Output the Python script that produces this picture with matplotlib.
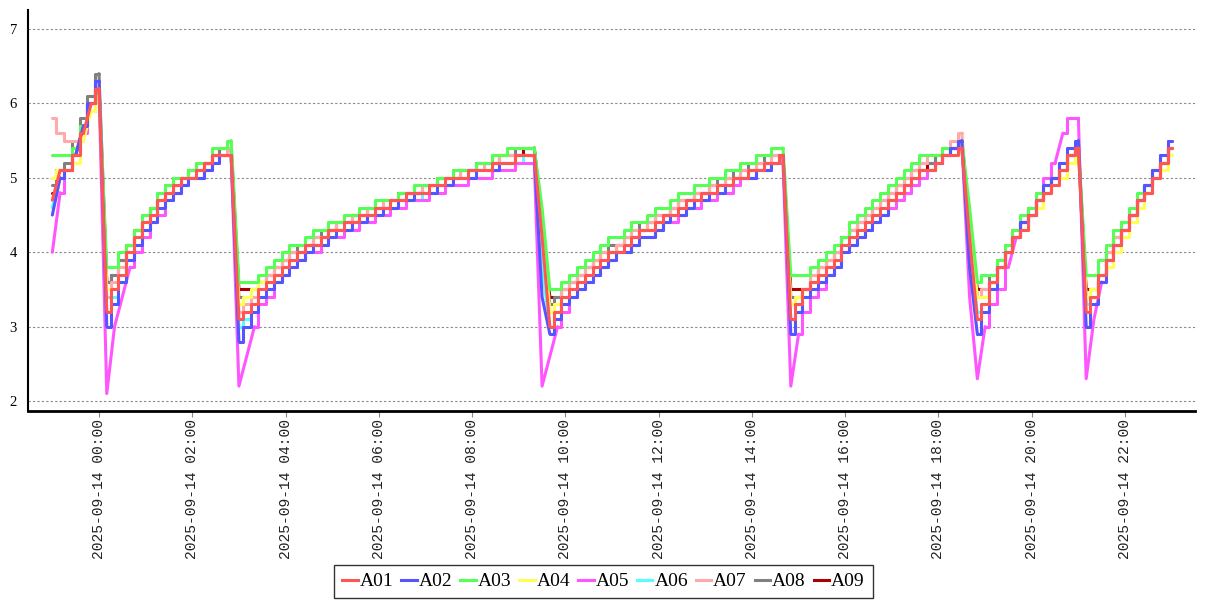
import numpy as np
import pandas as pd
import matplotlib
matplotlib.use("Agg")
import matplotlib.pyplot as plt

# 10-minute samples from 2025-09-13 23:00 to 2025-09-14 23:00 (one row per hour)
times = pd.date_range("2025-09-13 23:00", "2025-09-14 23:00", freq="10min")

a01 = [4.7, 5.1, 5.1, 5.3, 5.6, 6.0,
       6.2, 3.2, 3.5, 3.7, 4.0, 4.2,
       4.4, 4.5, 4.7, 4.8, 4.9, 5.0,
       5.0, 5.1, 5.2, 5.3, 5.3, 5.3,
       3.1, 3.2, 3.3, 3.5, 3.6, 3.7,
       3.8, 3.9, 4.0, 4.1, 4.1, 4.2,
       4.3, 4.3, 4.4, 4.4, 4.5, 4.5,
       4.6, 4.6, 4.7, 4.7, 4.8, 4.8,
       4.8, 4.9, 4.9, 5.0, 5.0, 5.0,
       5.1, 5.1, 5.1, 5.2, 5.2, 5.2,
       5.3, 5.3, 5.3, 4.2, 3.0, 3.2,
       3.4, 3.5, 3.6, 3.7, 3.8, 3.9,
       4.0, 4.0, 4.1, 4.2, 4.3, 4.3,
       4.4, 4.5, 4.5, 4.6, 4.7, 4.7,
       4.8, 4.8, 4.9, 4.9, 5.0, 5.0,
       5.1, 5.1, 5.2, 5.2, 5.3, 3.1,
       3.3, 3.5, 3.6, 3.7, 3.8, 3.9,
       4.1, 4.2, 4.3, 4.4, 4.5, 4.6,
       4.7, 4.8, 4.9, 5.0, 5.1, 5.1,
       5.2, 5.3, 5.3, 5.4, 4.2, 3.1,
       3.3, 3.6, 3.8, 4.0, 4.2, 4.3,
       4.5, 4.7, 4.8, 4.9, 5.1, 5.3,
       5.4, 3.2, 3.4, 3.7, 3.9, 4.1,
       4.3, 4.5, 4.7, 4.8, 5.0, 5.2,
       5.4]

a02 = [4.5, 5.0, 5.1, 5.3, 5.7, 6.0,
       6.3, 3.0, 3.3, 3.6, 3.9, 4.1,
       4.3, 4.4, 4.6, 4.7, 4.8, 4.9,
       5.0, 5.0, 5.1, 5.2, 5.3, 5.3,
       2.8, 3.0, 3.2, 3.4, 3.5, 3.6,
       3.7, 3.8, 3.9, 4.0, 4.1, 4.1,
       4.2, 4.3, 4.3, 4.4, 4.4, 4.5,
       4.5, 4.6, 4.6, 4.7, 4.7, 4.8,
       4.8, 4.8, 4.9, 4.9, 5.0, 5.0,
       5.0, 5.1, 5.1, 5.1, 5.2, 5.2,
       5.3, 5.3, 5.3, 3.4, 2.9, 3.1,
       3.3, 3.4, 3.5, 3.6, 3.7, 3.8,
       3.9, 4.0, 4.0, 4.1, 4.2, 4.2,
       4.3, 4.4, 4.5, 4.5, 4.6, 4.7,
       4.7, 4.8, 4.8, 4.9, 5.0, 5.0,
       5.0, 5.1, 5.1, 5.2, 5.3, 2.9,
       3.2, 3.4, 3.5, 3.6, 3.7, 3.8,
       4.0, 4.1, 4.2, 4.3, 4.4, 4.5,
       4.7, 4.8, 4.9, 5.0, 5.1, 5.1,
       5.2, 5.3, 5.4, 5.5, 3.8, 2.9,
       3.2, 3.5, 3.8, 4.0, 4.2, 4.4,
       4.5, 4.7, 4.9, 5.0, 5.2, 5.4,
       5.5, 3.0, 3.3, 3.6, 3.9, 4.1,
       4.3, 4.5, 4.7, 4.9, 5.1, 5.3,
       5.5]

a03 = [5.3, 5.3, 5.3, 5.4, 5.7, 6.0,
       6.2, 3.8, 3.8, 4.0, 4.1, 4.3,
       4.5, 4.6, 4.8, 4.9, 5.0, 5.0,
       5.1, 5.2, 5.2, 5.4, 5.4, 5.5,
       3.6, 3.6, 3.6, 3.7, 3.8, 3.9,
       4.0, 4.1, 4.1, 4.2, 4.3, 4.3,
       4.4, 4.4, 4.5, 4.5, 4.6, 4.6,
       4.7, 4.7, 4.7, 4.8, 4.8, 4.9,
       4.9, 4.9, 5.0, 5.0, 5.1, 5.1,
       5.1, 5.2, 5.2, 5.3, 5.3, 5.4,
       5.4, 5.4, 5.4, 4.6, 3.5, 3.5,
       3.6, 3.7, 3.8, 3.9, 4.0, 4.1,
       4.2, 4.2, 4.3, 4.4, 4.4, 4.5,
       4.6, 4.6, 4.7, 4.8, 4.8, 4.9,
       4.9, 5.0, 5.0, 5.1, 5.1, 5.2,
       5.2, 5.3, 5.3, 5.4, 5.4, 3.7,
       3.7, 3.7, 3.8, 3.9, 4.0, 4.1,
       4.2, 4.4, 4.5, 4.6, 4.7, 4.8,
       4.9, 5.0, 5.1, 5.2, 5.3, 5.3,
       5.3, 5.4, 5.4, 5.5, 4.6, 3.6,
       3.7, 3.7, 3.9, 4.1, 4.3, 4.5,
       4.6, 4.8, 4.9, 5.0, 5.1, 5.3,
       5.4, 3.7, 3.7, 3.9, 4.1, 4.3,
       4.4, 4.6, 4.8, 4.9, 5.1, 5.2,
       5.4]

a04 = [5.0, 5.1, 5.1, 5.2, 5.5, 5.9,
       6.1, 3.5, 3.5, 3.7, 4.0, 4.2,
       4.4, 4.5, 4.6, 4.8, 4.9, 5.0,
       5.0, 5.1, 5.2, 5.3, 5.3, 5.3,
       3.3, 3.4, 3.5, 3.6, 3.6, 3.7,
       3.8, 3.9, 4.0, 4.0, 4.1, 4.2,
       4.2, 4.3, 4.3, 4.4, 4.4, 4.5,
       4.5, 4.6, 4.6, 4.7, 4.7, 4.8,
       4.8, 4.9, 4.9, 4.9, 5.0, 5.0,
       5.0, 5.1, 5.1, 5.2, 5.2, 5.2,
       5.3, 5.3, 5.3, 4.3, 3.2, 3.3,
       3.4, 3.5, 3.6, 3.7, 3.8, 3.9,
       4.0, 4.0, 4.1, 4.2, 4.3, 4.3,
       4.4, 4.4, 4.5, 4.6, 4.6, 4.7,
       4.8, 4.8, 4.9, 4.9, 5.0, 5.0,
       5.1, 5.1, 5.2, 5.2, 5.3, 3.3,
       3.4, 3.5, 3.6, 3.7, 3.8, 3.9,
       4.0, 4.1, 4.3, 4.4, 4.5, 4.6,
       4.7, 4.8, 4.9, 5.0, 5.1, 5.1,
       5.2, 5.3, 5.3, 5.4, 4.3, 3.4,
       3.4, 3.6, 3.8, 4.0, 4.2, 4.3,
       4.5, 4.6, 4.8, 4.9, 5.0, 5.2,
       5.3, 3.4, 3.5, 3.6, 3.8, 4.0,
       4.2, 4.4, 4.6, 4.8, 5.0, 5.1,
       5.3]

a05 = [4.0, 4.8, 5.1, 5.3, 5.6, 5.9,
       6.2, 2.1, 3.0, 3.4, 3.8, 4.0,
       4.2, 4.4, 4.5, 4.7, 4.8, 4.9,
       5.0, 5.0, 5.1, 5.2, 5.3, 5.3,
       2.2, 2.6, 3.0, 3.3, 3.4, 3.6,
       3.7, 3.8, 3.9, 4.0, 4.0, 4.1,
       4.2, 4.2, 4.3, 4.3, 4.4, 4.4,
       4.5, 4.5, 4.6, 4.6, 4.7, 4.7,
       4.7, 4.8, 4.8, 4.9, 4.9, 4.9,
       5.0, 5.0, 5.0, 5.1, 5.1, 5.1,
       5.2, 5.2, 5.2, 2.2, 2.6, 3.0,
       3.2, 3.4, 3.5, 3.6, 3.7, 3.8,
       3.9, 4.0, 4.0, 4.1, 4.2, 4.2,
       4.3, 4.4, 4.4, 4.5, 4.6, 4.6,
       4.7, 4.7, 4.8, 4.8, 4.9, 5.0,
       5.0, 5.1, 5.1, 5.2, 5.2, 2.2,
       2.9, 3.2, 3.4, 3.5, 3.7, 3.8,
       4.0, 4.1, 4.2, 4.3, 4.4, 4.5,
       4.6, 4.7, 4.8, 4.9, 5.0, 5.1,
       5.2, 5.3, 5.4, 5.5, 3.4, 2.3,
       3.0, 3.3, 3.5, 3.8, 4.2, 4.4,
       4.6, 4.8, 5.0, 5.2, 5.6, 5.8,
       5.8, 2.3, 3.1, 3.6, 3.9, 4.1,
       4.3, 4.5, 4.7, 4.9, 5.1, 5.3,
       5.5]

a06 = [4.6, 5.0, 5.1, 5.3, 5.6, 6.0,
       6.2, 3.2, 3.4, 3.6, 3.9, 4.1,
       4.3, 4.4, 4.6, 4.7, 4.8, 4.9,
       5.0, 5.0, 5.1, 5.2, 5.3, 5.3,
       3.0, 3.1, 3.2, 3.4, 3.5, 3.6,
       3.7, 3.8, 3.9, 4.0, 4.0, 4.1,
       4.2, 4.3, 4.3, 4.4, 4.4, 4.5,
       4.5, 4.6, 4.6, 4.7, 4.7, 4.7,
       4.8, 4.8, 4.9, 4.9, 5.0, 5.0,
       5.0, 5.1, 5.1, 5.1, 5.2, 5.2,
       5.2, 5.3, 5.3, 3.8, 3.0, 3.1,
       3.3, 3.4, 3.5, 3.6, 3.7, 3.8,
       3.9, 4.0, 4.0, 4.1, 4.2, 4.2,
       4.3, 4.4, 4.4, 4.5, 4.6, 4.6,
       4.7, 4.8, 4.8, 4.9, 4.9, 5.0,
       5.0, 5.1, 5.1, 5.2, 5.2, 3.1,
       3.2, 3.4, 3.5, 3.6, 3.7, 3.8,
       4.0, 4.1, 4.2, 4.3, 4.4, 4.5,
       4.6, 4.7, 4.8, 4.9, 5.0, 5.1,
       5.2, 5.3, 5.4, 5.4, 4.0, 3.2,
       3.3, 3.5, 3.8, 4.0, 4.2, 4.3,
       4.5, 4.7, 4.8, 4.9, 5.1, 5.3,
       5.5, 3.3, 3.4, 3.6, 3.9, 4.1,
       4.3, 4.5, 4.7, 4.8, 5.0, 5.2,
       5.4]

a07 = [5.8, 5.6, 5.5, 5.5, 5.7, 6.0,
       6.2, 3.4, 3.6, 3.8, 4.1, 4.3,
       4.5, 4.6, 4.7, 4.9, 5.0, 5.0,
       5.1, 5.2, 5.2, 5.3, 5.3, 5.4,
       3.2, 3.3, 3.4, 3.6, 3.7, 3.8,
       3.9, 4.0, 4.0, 4.1, 4.2, 4.2,
       4.3, 4.4, 4.4, 4.5, 4.5, 4.6,
       4.6, 4.7, 4.7, 4.7, 4.8, 4.8,
       4.9, 4.9, 5.0, 5.0, 5.0, 5.1,
       5.1, 5.1, 5.2, 5.2, 5.3, 5.3,
       5.3, 5.3, 5.3, 4.3, 3.2, 3.3,
       3.5, 3.6, 3.7, 3.8, 3.9, 4.0,
       4.0, 4.1, 4.2, 4.3, 4.3, 4.4,
       4.5, 4.5, 4.6, 4.7, 4.7, 4.8,
       4.8, 4.9, 4.9, 5.0, 5.0, 5.1,
       5.1, 5.2, 5.2, 5.3, 5.3, 3.3,
       3.4, 3.5, 3.7, 3.8, 3.9, 4.0,
       4.1, 4.3, 4.4, 4.5, 4.6, 4.7,
       4.8, 4.9, 5.0, 5.1, 5.2, 5.3,
       5.3, 5.4, 5.5, 5.6, 4.3, 3.4,
       3.5, 3.6, 3.8, 4.0, 4.2, 4.4,
       4.5, 4.7, 4.8, 5.0, 5.1, 5.3,
       5.4, 3.3, 3.5, 3.7, 4.0, 4.2,
       4.4, 4.5, 4.7, 4.9, 5.0, 5.2,
       5.4]

a08 = [4.9, 5.1, 5.2, 5.5, 5.8, 6.1,
       6.4, 3.6, 3.7, 3.9, 4.1, 4.3,
       4.5, 4.6, 4.7, 4.9, 5.0, 5.0,
       5.1, 5.2, 5.2, 5.3, 5.4, 5.4,
       3.4, 3.4, 3.5, 3.6, 3.7, 3.8,
       3.9, 4.0, 4.1, 4.1, 4.2, 4.3,
       4.3, 4.4, 4.4, 4.5, 4.5, 4.6,
       4.6, 4.7, 4.7, 4.8, 4.8, 4.8,
       4.9, 4.9, 5.0, 5.0, 5.1, 5.1,
       5.1, 5.2, 5.2, 5.2, 5.3, 5.3,
       5.4, 5.4, 5.4, 4.4, 3.3, 3.4,
       3.5, 3.6, 3.7, 3.8, 3.9, 4.0,
       4.1, 4.1, 4.2, 4.3, 4.4, 4.4,
       4.5, 4.5, 4.6, 4.7, 4.7, 4.8,
       4.8, 4.9, 5.0, 5.0, 5.1, 5.1,
       5.2, 5.2, 5.3, 5.3, 5.3, 3.4,
       3.4, 3.5, 3.7, 3.8, 3.9, 4.0,
       4.2, 4.3, 4.4, 4.5, 4.6, 4.7,
       4.8, 4.9, 5.0, 5.1, 5.2, 5.2,
       5.3, 5.4, 5.4, 5.5, 4.4, 3.4,
       3.5, 3.7, 3.9, 4.1, 4.3, 4.4,
       4.6, 4.7, 4.9, 5.0, 5.2, 5.3,
       5.4, 3.4, 3.5, 3.7, 4.0, 4.2,
       4.4, 4.5, 4.7, 4.9, 5.1, 5.2,
       5.4]

a09 = [4.8, 5.1, 5.1, 5.3, 5.7, 6.0,
       6.2, 3.6, 3.7, 3.9, 4.1, 4.3,
       4.4, 4.6, 4.7, 4.8, 4.9, 5.0,
       5.1, 5.1, 5.2, 5.3, 5.4, 5.4,
       3.5, 3.5, 3.5, 3.6, 3.7, 3.8,
       3.9, 4.0, 4.0, 4.1, 4.2, 4.2,
       4.3, 4.4, 4.4, 4.5, 4.5, 4.6,
       4.6, 4.6, 4.7, 4.8, 4.8, 4.8,
       4.9, 4.9, 5.0, 5.0, 5.0, 5.1,
       5.1, 5.2, 5.2, 5.2, 5.3, 5.3,
       5.3, 5.4, 5.4, 4.4, 3.4, 3.4,
       3.5, 3.6, 3.7, 3.8, 3.9, 4.0,
       4.0, 4.1, 4.2, 4.2, 4.3, 4.4,
       4.5, 4.5, 4.6, 4.7, 4.7, 4.8,
       4.8, 4.9, 4.9, 5.0, 5.0, 5.1,
       5.1, 5.2, 5.2, 5.3, 5.3, 3.5,
       3.5, 3.5, 3.6, 3.8, 3.9, 4.0,
       4.2, 4.3, 4.4, 4.5, 4.6, 4.7,
       4.8, 4.9, 5.0, 5.1, 5.1, 5.2,
       5.3, 5.3, 5.4, 5.4, 4.4, 3.5,
       3.5, 3.6, 3.8, 4.0, 4.2, 4.4,
       4.5, 4.7, 4.8, 5.0, 5.1, 5.3,
       5.4, 3.5, 3.5, 3.7, 4.0, 4.2,
       4.3, 4.5, 4.7, 4.8, 5.0, 5.2,
       5.4]

names = ["A01", "A02", "A03", "A04", "A05", "A06", "A07", "A08", "A09"]
series = [a01, a02, a03, a04, a05, a06, a07, a08, a09]
colors = ["#ff5555", "#5555ff", "#55ff55", "#ffff55", "#ff55ff",
          "#55ffff", "#ffaaaa", "#808080", "#aa0000"]
tick_labels = ["2025-09-14 %02d:00" % h for h in range(0, 24, 2)]

fig = plt.figure(figsize=(12.07, 6), dpi=100)
ax = fig.add_axes([28 / 1207, 189 / 600, 1167 / 1207, 401 / 600])


def draw_series(ax, t, v, col, z):
    # slow changes as stairs, big jumps (discharge / quick recovery) as straight lines
    v = np.asarray(v)
    fast = np.abs(np.diff(v)) > 0.35
    n = len(v)
    start = 0
    i = 0
    while i < n - 1:
        if fast[i]:
            if i > start:
                ax.plot(t[start:i + 1], v[start:i + 1], color=col, lw=2.2,
                        drawstyle="steps-mid", solid_capstyle="round", zorder=z)
            j = i
            while j < n - 1 and fast[j]:
                j += 1
            ax.plot(t[i:j + 1], v[i:j + 1], color=col, lw=2.2,
                    solid_capstyle="round", solid_joinstyle="round", zorder=z)
            start = j
            i = j
        else:
            i += 1
    if start < n - 1:
        ax.plot(t[start:], v[start:], color=col, lw=2.2,
                drawstyle="steps-mid", solid_capstyle="round", zorder=z)


# A09 first so that A01 ends up on top
for k in range(len(names) - 1, -1, -1):
    draw_series(ax, times, series[k], colors[k], 10 - k)

ax.set_xlim(pd.Timestamp("2025-09-13 22:28:40"), pd.Timestamp("2025-09-14 23:30"))
ax.set_ylim(1.866, 7.255)
ax.set_yticks([2, 3, 4, 5, 6, 7])
ax.set_yticklabels(["2", "3", "4", "5", "6", "7"], family="Liberation Serif", fontsize=10.5)

tick_pos = pd.date_range("2025-09-14 00:00", "2025-09-14 22:00", freq="2h")
ax.set_xticks(tick_pos)
ax.set_xticklabels(tick_labels, rotation=90, family="Liberation Mono", fontsize=10.5,
                   color="#222222")
ax.tick_params(axis="x", length=4, width=0.8, color="#888888", pad=2)
ax.tick_params(axis="y", length=0, pad=8)

ax.yaxis.grid(True, linestyle=(0, (2, 2)), color="#888888", lw=0.8)
ax.set_axisbelow(True)
for s in ["top", "right"]:
    ax.spines[s].set_visible(False)
ax.spines["left"].set_linewidth(1.5)
ax.spines["bottom"].set_linewidth(2)

proxies = [plt.Line2D([], [], color=c, lw=2.2) for c in colors]
leg = fig.legend(proxies, names, loc="lower center",
                 bbox_to_anchor=(0.5, 0.003), ncol=9, frameon=True,
                 prop={"family": "Liberation Serif", "size": 14},
                 handlelength=0.8, handletextpad=0.1, columnspacing=0.4,
                 borderpad=0.4, borderaxespad=0.0, fancybox=False)
leg.get_frame().set_edgecolor("black")
leg.get_frame().set_linewidth(1.0)

fig.savefig("out.png", dpi=100)
